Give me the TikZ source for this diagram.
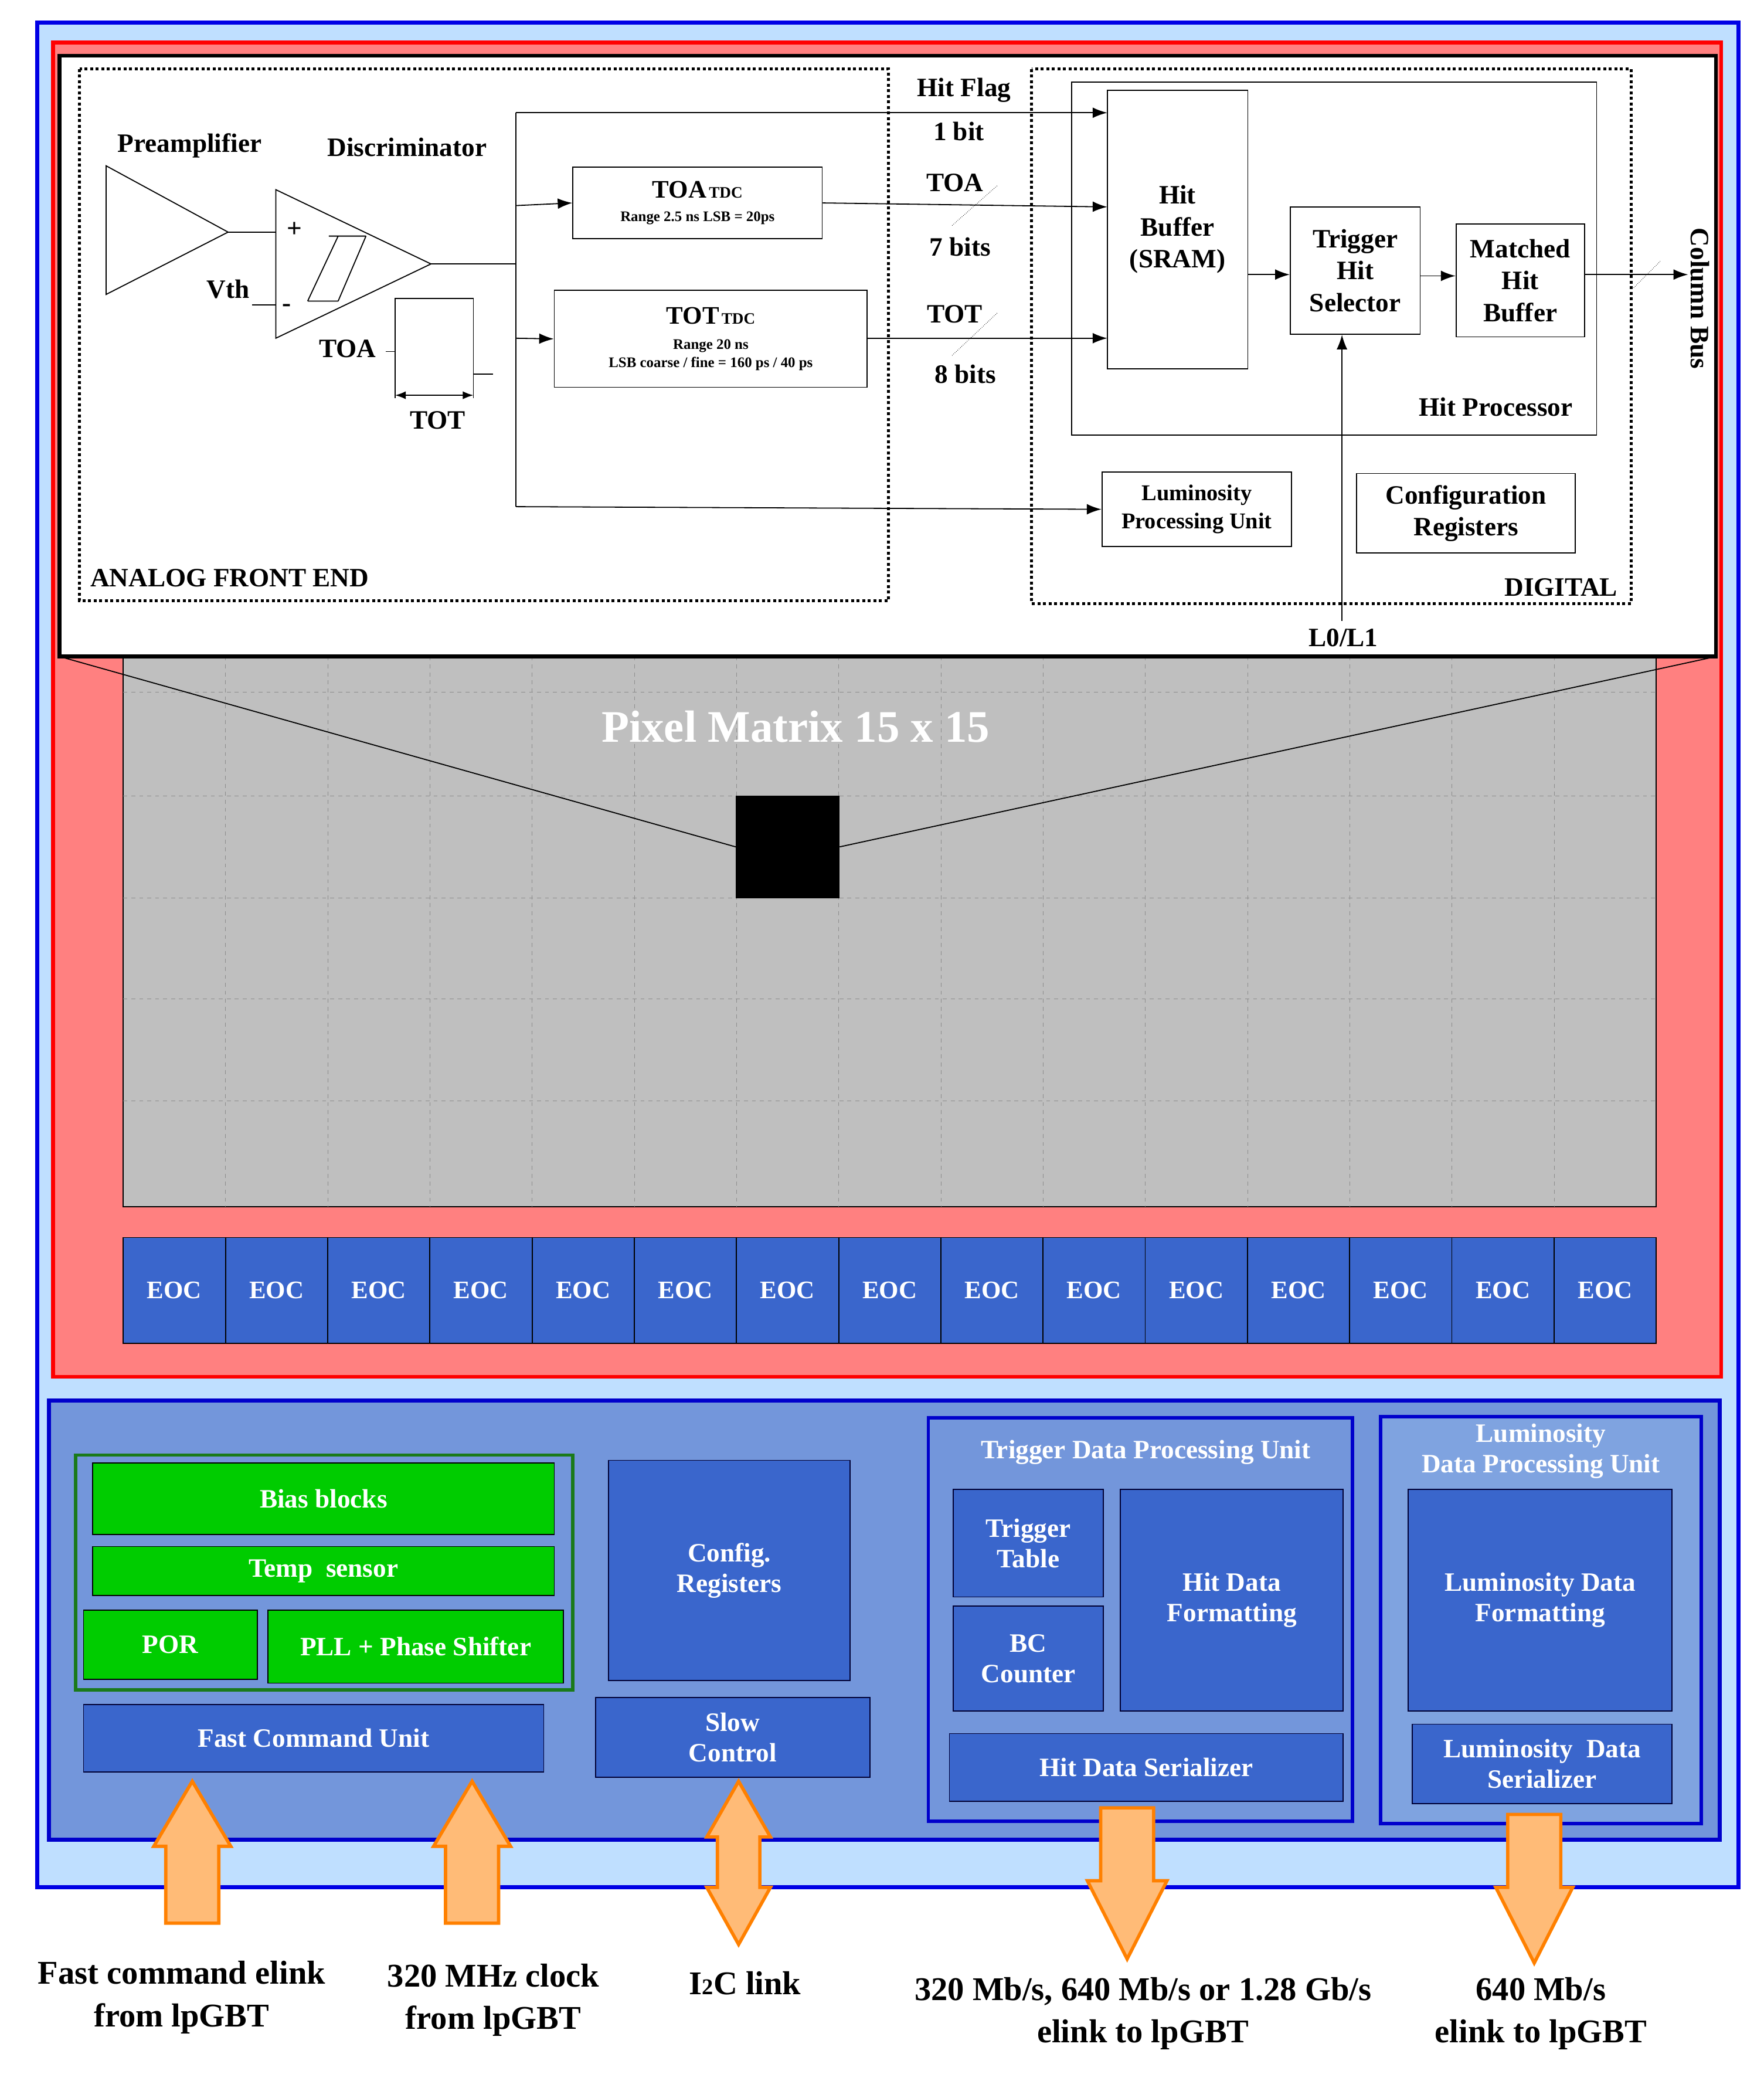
\documentclass[tikz,border=0pt]{standalone}
\usepackage{fontspec}
\setmainfont{Liberation Serif}
\usetikzlibrary{arrows.meta}
\definecolor{lblue}{HTML}{BFDFFF}
\definecolor{pred}{HTML}{FF8080}
\definecolor{mblue}{HTML}{7396DB}
\definecolor{dblue}{HTML}{3A66CC}
\definecolor{lumb}{HTML}{7FA3E0}
\definecolor{gr}{HTML}{00CC00}
\definecolor{dgr}{HTML}{1A7A1A}
\definecolor{ofill}{HTML}{FFBB77}
\definecolor{oline}{HTML}{FF8000}
\begin{document}
\begin{tikzpicture}[x=1pt,y=-1pt,
 lbl/.style={font=\fontsize{20}{23}\selectfont\bfseries, align=center, inner sep=0},
 wl/.style={lbl, text=white},
 bx/.style={draw=black, thick},
 blk/.style={draw=black!80!blue, thick, fill=dblue},
 arr/.style={thick,-{Latex[length=11pt,width=8pt]}},
 dotb/.style={draw, line width=2.2pt, dotted},
 oarr/.style={draw=oline, line width=2.5pt, fill=ofill, line join=miter},
 big/.style={font=\fontsize{25}{32}\selectfont\bfseries, align=center}]
\useasboundingbox (0,0) rectangle (1330,1569);
% outer
\draw[line width=3pt, draw=blue!90!black, fill=lblue] (28,17) rectangle (1311,1423);
\draw[line width=3pt, draw=red, fill=pred] (40,32) rectangle (1298,1038);
% matrix
\draw[thick, fill=black!25] (93,495) rectangle (1249,910);
\foreach \i in {1,...,14} \draw[dashed, black!45] (93+\i*77.07,495) -- (93+\i*77.07,910);
\foreach \y in {522,600,677,753,830} \draw[dashed, black!45] (93,\y) -- (1249,\y);
\node[font=\fontsize{34}{40}\selectfont\bfseries, text=white] (pm) at (600,548) {Pixel Matrix 15 x 15};
\node[draw, fill=black, minimum width=78, minimum height=77, inner sep=0] (px) at (594,638.5) {};
% white box
\draw[line width=3pt, fill=white] (45,42) rectangle (1294,495);
\coordinate (bl) at (45,495); \coordinate (br) at (1294,495);
\draw[thick] (bl) -- (px.west); \draw[thick] (br) -- (px.east);
% EOC
\foreach \i in {0,...,14} \node[draw=black, thick, fill=dblue, minimum width=77.07, minimum height=80, inner sep=0, font=\fontsize{19}{22}\selectfont\bfseries, text=white] (eoc\i) at (131.5+\i*77.07,973) {EOC};
% periphery
\draw[line width=3pt, draw=blue!80!black, fill=mblue] (37,1056) rectangle (1297,1387);
\draw[line width=2.5pt, draw=dgr] (57,1097) rectangle (432,1274);
\draw[thick, fill=gr] (70,1103) rectangle (418,1157) node[midway, wl] (bias) {Bias blocks};
\draw[thick, fill=gr] (70,1166) rectangle (418,1203) node[midway, wl] (temp) {Temp \ sensor};
\draw[thick, fill=gr] (63,1214) rectangle (194,1266) node[midway, wl] (por) {POR};
\draw[thick, fill=gr] (202,1214) rectangle (425,1269) node[midway, wl] (pll) {PLL + Phase Shifter};
\draw[blk] (63,1285) rectangle (410,1336) node[midway, wl] (fcu) {Fast Command Unit};
\draw[blk] (459,1101) rectangle (641,1267) node[midway, wl] (cfg) {Config.\\Registers};
\draw[blk] (449,1280) rectangle (656,1340) node[midway, wl] (sc) {Slow\\Control};
\draw[line width=2.5pt, draw=blue!80!black] (700,1069) rectangle (1020,1373);
\node[wl] (tdpu) at (864,1095) {Trigger Data Processing Unit};
\draw[blk] (719,1123) rectangle (832,1204) node[midway, wl] (tt) {Trigger\\Table};
\draw[blk] (719,1211) rectangle (832,1290) node[midway, wl] (bc) {BC\\Counter};
\draw[blk] (845,1123) rectangle (1013,1290) node[midway, wl] (hdf) {Hit Data\\Formatting};
\draw[blk] (716,1307) rectangle (1013,1358) node[midway, wl] (hds) {Hit Data Serializer};
\draw[line width=2.5pt, draw=blue!80!black, fill=lumb] (1041,1068) rectangle (1283,1375);
\node[wl] (ldpu) at (1162,1094) {Luminosity\\Data Processing Unit};
\draw[blk] (1062,1123) rectangle (1261,1290) node[midway, wl] (ldf) {Luminosity Data\\Formatting};
\draw[blk] (1065,1300) rectangle (1261,1360) node[midway, wl] (lds) {Luminosity \ Data\\Serializer};
% orange arrows
\draw[oarr] (145,1343) -- (174,1392) -- (165,1392) -- (165,1450) -- (125,1450) -- (125,1392) -- (116,1392) -- cycle;
\draw[oarr] (356,1343) -- (385,1392) -- (376,1392) -- (376,1450) -- (336,1450) -- (336,1392) -- (327,1392) -- cycle;
\draw[oarr] (557,1343) -- (581,1385) -- (573,1385) -- (573,1423) -- (581,1423) -- (557,1466) -- (533,1423) -- (541,1423) -- (541,1385) -- (533,1385) -- cycle;
\draw[oarr] (830,1363) -- (870,1363) -- (870,1418) -- (880,1418) -- (850,1477) -- (820,1418) -- (830,1418) -- cycle;
\draw[oarr] (1137,1368) -- (1177,1368) -- (1177,1423) -- (1186,1423) -- (1157,1480) -- (1128,1423) -- (1137,1423) -- cycle;
\node[big] (t1) at (137,1506) {Fast command elink\\from lpGBT};
\node[big] (t2) at (372,1508) {320 MHz clock\\from lpGBT};
\node[big] (t3) at (562,1495) {I{\fontsize{17}{20}\selectfont 2}C link};
\node[big] (t4) at (862,1518) {320 Mb/s, 640 Mb/s or 1.28 Gb/s\\elink to lpGBT};
\node[big] (t5) at (1162,1518) {640 Mb/s\\elink to lpGBT};
% analog front end
\draw[dotb] (60,52) rectangle (670,453);
\draw[dotb] (778,52) rectangle (1230,455);
\node[lbl, anchor=west] (afe) at (68,436) {ANALOG FRONT END};
\node[lbl, anchor=east] (dig) at (1220,443) {DIGITAL};
\node[lbl] (pre) at (143,110) {Preamplifier};
\node[lbl] (dis) at (307,111) {Discriminator};
\draw[thick] (80,125) -- (80,222) -- (172,175) -- cycle;
\coordinate (po) at (172,175);
\draw[thick] (208,143) -- (208,255) -- (325,199) -- cycle;
\coordinate (dp) at (208,175); \coordinate (dm) at (208,230);
\draw[thick] (po) -- (dp);
\node[lbl] (plus) at (222,173) {+};
\node[lbl] (minus) at (216,232) {-};
\draw[thick] (248,178) -- (276,178) (232,227) -- (255,178) (255,227) -- (276,178) (232,227) -- (255,227);
\node[lbl] (vth) at (172,218) {Vth};
\draw[thick] (190,230) -- (dm);
\coordinate (dout) at (325,199); \coordinate (bj) at (389,199);
\coordinate (bt) at (389,85); \coordinate (bb) at (389,382);
\draw[thick] (dout) -- (bj); \draw[thick] (bt) -- (bb);
% pulse
\draw[thick] (298,300) -- (298,225) -- (357,225) -- (357,300);
\draw[thick] (291,265) -- (298,265) (357,282) -- (372,282);
\draw[thick, {Latex[length=8pt]}-{Latex[length=8pt]}] (298,298) -- (357,298);
\node[lbl] (toal) at (262,263) {TOA};
\node[lbl] (totl) at (330,317) {TOT};
% TDCs
\node[bx, minimum width=188, minimum height=54, inner sep=0, align=center, font=\fontsize{11}{13}\selectfont\bfseries] (toa) at (526,153) {{\fontsize{19}{20}\selectfont TOA}\,{\fontsize{12}{12}\selectfont TDC}\\[5pt]Range 2.5 ns LSB = 20ps};
\node[bx, minimum width=236, minimum height=73, inner sep=0, align=center, font=\fontsize{11}{14}\selectfont\bfseries] (tot) at (536,255.5) {{\fontsize{19}{20}\selectfont TOT}\,{\fontsize{12}{12}\selectfont TDC}\\[5pt]Range 20 ns\\LSB coarse / fine = 160 ps / 40 ps};
\draw[arr] (389,155) -- (toa.west);
\draw[arr] (389,255) -- (tot.west);
% digital
\draw[thick] (808,62) rectangle (1204,328);
\node[lbl] (hp) at (1128,307) {Hit Processor};
\node[bx, minimum width=106, minimum height=210, inner sep=0, font=\fontsize{20}{24}\selectfont\bfseries, align=center] (hb) at (888,173) {Hit\\Buffer\\(SRAM)};
\node[bx, minimum width=98, minimum height=96, inner sep=0, font=\fontsize{20}{24}\selectfont\bfseries, align=center] (ths) at (1022,204) {Trigger\\Hit\\Selector};
\node[bx, minimum width=97, minimum height=85, inner sep=0, font=\fontsize{20}{24}\selectfont\bfseries, align=center] (mhb) at (1146.5,211.5) {Matched\\Hit\\Buffer};
\node[bx, minimum width=143, minimum height=56, inner sep=0, font=\fontsize{17}{21}\selectfont\bfseries, align=center] (lpu) at (902.5,384) {Luminosity\\Processing Unit};
\node[bx, minimum width=165, minimum height=60, inner sep=0, font=\fontsize{20}{24}\selectfont\bfseries, align=center] (cr) at (1105.5,387) {Configuration\\Registers};
\draw[arr] (bt) -- (835,85);
\draw[arr] (toa.east) -- (835,156);
\draw[arr] (tot.east |- 255,255) -- (835,255);
\draw[arr] (bb) -- (lpu.west);
\draw[arr] (hb.east |- 0,207) -- (ths.west |- 0,207);
\draw[arr] (ths.east |- 0,208) -- (mhb.west |- 0,208);
\coordinate (cb) at (1273,207);
\draw[arr] (mhb.east |- 0,207) -- (cb);
\draw[thin, densely dotted] (1232,217) -- (1252,197);
\draw[thin, densely dotted] (718,170) -- (752,140);
\draw[thin, densely dotted] (718,268) -- (752,236);
\node[lbl, rotate=-90] (cbl) at (1282,225) {Column Bus};
\coordinate (l0) at (1012,468);
\draw[arr] (l0) -- (ths.south -| 1012,0);
\node[lbl] (l0l) at (1013,481) {L0/L1};
\node[lbl] (hf) at (727,68) {Hit Flag};
\node[lbl] (b1) at (723,99) {1 bit};
\node[lbl] (ta) at (720,138) {TOA};
\node[lbl] (b7) at (724,186) {7 bits};
\node[lbl] (tt2) at (720,237) {TOT};
\node[lbl] (b8) at (728,282) {8 bits};
\end{tikzpicture}
\end{document}
